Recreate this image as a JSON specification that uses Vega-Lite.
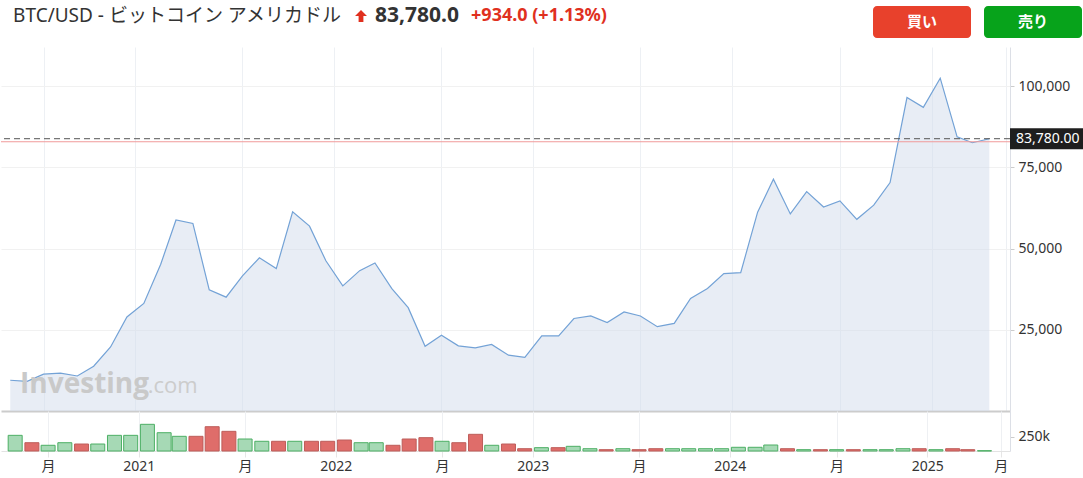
{
  "$schema": "https://vega.github.io/schema/vega-lite/v6.json",
  "padding": {"left": 0, "top": 5, "right": 0, "bottom": 0},
  "background": "white",
  "config": {"view": {"stroke": null}, "font": "Noto Sans, Noto Sans CJK JP"},
  "datasets": {
    "btc": [
      {"date": "2020-05-01", "close": 9454.8, "volume": 274000, "dir": "up"},
      {"date": "2020-06-01", "close": 9135.4, "volume": 145000, "dir": "down"},
      {"date": "2020-07-01", "close": 11333.4, "volume": 100000, "dir": "up"},
      {"date": "2020-08-01", "close": 11644.2, "volume": 145000, "dir": "up"},
      {"date": "2020-09-01", "close": 10776.1, "volume": 122000, "dir": "down"},
      {"date": "2020-10-01", "close": 13797.3, "volume": 122000, "dir": "up"},
      {"date": "2020-11-01", "close": 19698.1, "volume": 274000, "dir": "up"},
      {"date": "2020-12-01", "close": 28949.4, "volume": 274000, "dir": "up"},
      {"date": "2021-01-01", "close": 33108.1, "volume": 467000, "dir": "up"},
      {"date": "2021-02-01", "close": 45164.0, "volume": 320000, "dir": "up"},
      {"date": "2021-03-01", "close": 58763.7, "volume": 257000, "dir": "up"},
      {"date": "2021-04-01", "close": 57720.3, "volume": 257000, "dir": "down"},
      {"date": "2021-05-01", "close": 37298.6, "volume": 425000, "dir": "down"},
      {"date": "2021-06-01", "close": 35026.9, "volume": 344000, "dir": "down"},
      {"date": "2021-07-01", "close": 41553.7, "volume": 210000, "dir": "up"},
      {"date": "2021-08-01", "close": 47130.4, "volume": 170000, "dir": "up"},
      {"date": "2021-09-01", "close": 43823.3, "volume": 170000, "dir": "down"},
      {"date": "2021-10-01", "close": 61309.6, "volume": 170000, "dir": "up"},
      {"date": "2021-11-01", "close": 56882.9, "volume": 170000, "dir": "down"},
      {"date": "2021-12-01", "close": 46219.5, "volume": 170000, "dir": "down"},
      {"date": "2022-01-01", "close": 38498.6, "volume": 192000, "dir": "down"},
      {"date": "2022-02-01", "close": 43188.2, "volume": 145000, "dir": "up"},
      {"date": "2022-03-01", "close": 45525.0, "volume": 145000, "dir": "up"},
      {"date": "2022-04-01", "close": 37650.0, "volume": 100000, "dir": "down"},
      {"date": "2022-05-01", "close": 31793.4, "volume": 210000, "dir": "down"},
      {"date": "2022-06-01", "close": 19926.6, "volume": 233000, "dir": "down"},
      {"date": "2022-07-01", "close": 23303.4, "volume": 170000, "dir": "up"},
      {"date": "2022-08-01", "close": 20050.0, "volume": 145000, "dir": "down"},
      {"date": "2022-09-01", "close": 19422.9, "volume": 292000, "dir": "down"},
      {"date": "2022-10-01", "close": 20490.9, "volume": 100000, "dir": "up"},
      {"date": "2022-11-01", "close": 17163.9, "volume": 122000, "dir": "down"},
      {"date": "2022-12-01", "close": 16537.4, "volume": 40000, "dir": "down"},
      {"date": "2023-01-01", "close": 23125.1, "volume": 58000, "dir": "up"},
      {"date": "2023-02-01", "close": 23120.0, "volume": 58000, "dir": "down"},
      {"date": "2023-03-01", "close": 28465.4, "volume": 82000, "dir": "up"},
      {"date": "2023-04-01", "close": 29252.1, "volume": 40000, "dir": "up"},
      {"date": "2023-05-01", "close": 27216.1, "volume": 23000, "dir": "down"},
      {"date": "2023-06-01", "close": 30472.9, "volume": 40000, "dir": "up"},
      {"date": "2023-07-01", "close": 29232.4, "volume": 23000, "dir": "down"},
      {"date": "2023-08-01", "close": 25940.8, "volume": 40000, "dir": "down"},
      {"date": "2023-09-01", "close": 26962.7, "volume": 40000, "dir": "up"},
      {"date": "2023-10-01", "close": 34639.4, "volume": 40000, "dir": "up"},
      {"date": "2023-11-01", "close": 37718.1, "volume": 40000, "dir": "up"},
      {"date": "2023-12-01", "close": 42272.5, "volume": 40000, "dir": "up"},
      {"date": "2024-01-01", "close": 42580.5, "volume": 65000, "dir": "up"},
      {"date": "2024-02-01", "close": 61168.3, "volume": 65000, "dir": "up"},
      {"date": "2024-03-01", "close": 71332.0, "volume": 105000, "dir": "up"},
      {"date": "2024-04-01", "close": 60636.9, "volume": 40000, "dir": "down"},
      {"date": "2024-05-01", "close": 67530.1, "volume": 23000, "dir": "up"},
      {"date": "2024-06-01", "close": 62754.3, "volume": 23000, "dir": "down"},
      {"date": "2024-07-01", "close": 64628.0, "volume": 23000, "dir": "up"},
      {"date": "2024-08-01", "close": 58974.0, "volume": 23000, "dir": "down"},
      {"date": "2024-09-01", "close": 63327.6, "volume": 23000, "dir": "up"},
      {"date": "2024-10-01", "close": 70292.0, "volume": 23000, "dir": "up"},
      {"date": "2024-11-01", "close": 96449.1, "volume": 40000, "dir": "up"},
      {"date": "2024-12-01", "close": 93429.2, "volume": 40000, "dir": "down"},
      {"date": "2025-01-01", "close": 102405.0, "volume": 23000, "dir": "up"},
      {"date": "2025-02-01", "close": 84349.9, "volume": 40000, "dir": "down"},
      {"date": "2025-03-01", "close": 82548.9, "volume": 23000, "dir": "down"},
      {"date": "2025-04-01", "close": 83780.0, "volume": 5000, "dir": "up"}
    ]
  },
  "spacing": 9,
  "vconcat": [
    {
      "spacing": 0,
      "hconcat": [
        {
          "width": 352, "height": 32,
          "data": {"values": [{"t": "BTC/USD - ビットコイン アメリカドル"}]},
          "mark": {"type": "text", "fontSize": 19, "color": "#333333", "baseline": "middle", "dy": -6},
          "encoding": {"text": {"field": "t"}}
        },
        {
          "width": 16, "height": 32,
          "data": {"values": [{"t": "up"}]},
          "mark": {"type": "point", "shape": "M0,-2L1,-1L0.4,-1L0.4,0L-0.4,0L-0.4,-1L-1,-1Z", "size": 144, "filled": true, "color": "#e0301e", "opacity": 1, "strokeWidth": 0},
          "encoding": {}
        },
        {
          "width": 96, "height": 32,
          "data": {"values": [{"t": "83,780.0"}]},
          "mark": {"type": "text", "fontSize": 21, "fontWeight": "bold", "color": "#333333", "baseline": "middle", "dy": -6},
          "encoding": {"text": {"field": "t"}}
        },
        {
          "width": 148, "height": 32,
          "data": {"values": [{"t": "+934.0  (+1.13%)"}]},
          "mark": {"type": "text", "fontSize": 18, "fontWeight": "bold", "color": "#e0301e", "baseline": "middle", "dy": -6},
          "encoding": {"text": {"field": "t"}}
        },
        {
          "width": 260, "height": 32,
          "data": {"values": [{"t": ""}]},
          "mark": {"type": "text"},
          "encoding": {"text": {"field": "t"}}
        },
        {
          "width": 98, "height": 32,
          "view": {"fill": "#e8412c", "cornerRadius": 4, "stroke": null},
          "data": {"values": [{"t": "買い"}]},
          "mark": {"type": "text", "fontSize": 15, "fontWeight": "bold", "color": "white", "baseline": "middle", "font": "Noto Sans CJK JP"},
          "encoding": {"text": {"field": "t"}}
        },
        {
          "width": 13, "height": 32,
          "data": {"values": [{"t": ""}]},
          "mark": {"type": "text"},
          "encoding": {"text": {"field": "t"}}
        },
        {
          "width": 98, "height": 32,
          "view": {"fill": "#07a31b", "cornerRadius": 4, "stroke": null},
          "data": {"values": [{"t": "売り"}]},
          "mark": {"type": "text", "fontSize": 15, "fontWeight": "bold", "color": "white", "baseline": "middle", "font": "Noto Sans CJK JP"},
          "encoding": {"text": {"field": "t"}}
        }
      ]
    },
    {
      "spacing": 0,
      "vconcat": [
        {
          "width": 1009, "height": 364,
          "layer": [
            {
              "data": {"name": "btc"},
              "mark": {"type": "area", "fill": "#d1dbeb", "fillOpacity": 0.5, "line": {"color": "#73a2d6", "strokeWidth": 1.2}},
              "encoding": {
                "x": {
                  "field": "date", "type": "temporal",
                  "scale": {"type": "utc", "domain": [{"year": 2020, "month": 4, "date": 14, "utc": true}, {"year": 2025, "month": 5, "date": 9, "utc": true}]},
                  "axis": {
                    "values": [
                      {"year": 2020, "month": 7, "date": 1, "utc": true},
                      {"year": 2020, "month": 12, "date": 16, "utc": true},
                      {"year": 2021, "month": 7, "date": 1, "utc": true},
                      {"year": 2021, "month": 12, "date": 16, "utc": true},
                      {"year": 2022, "month": 7, "date": 1, "utc": true},
                      {"year": 2022, "month": 12, "date": 16, "utc": true},
                      {"year": 2023, "month": 7, "date": 1, "utc": true},
                      {"year": 2023, "month": 12, "date": 16, "utc": true},
                      {"year": 2024, "month": 7, "date": 1, "utc": true},
                      {"year": 2024, "month": 12, "date": 16, "utc": true},
                      {"year": 2025, "month": 5, "date": 1, "utc": true}
                    ],
                    "grid": true, "gridColor": "#edf0f4", "labels": false, "ticks": false,
                    "domain": true, "domainColor": "#cccccc", "domainWidth": 2, "title": null
                  }
                },
                "y": {
                  "field": "close", "type": "quantitative",
                  "scale": {"domain": [0, 112000], "nice": false},
                  "axis": {
                    "orient": "right", "values": [25000, 50000, 75000, 100000], "format": ",.0f",
                    "grid": true, "gridColor": "#f1f1f1", "domainColor": "#dcdfe6", "tickColor": "#cccccc",
                    "tickSize": 4, "labelPadding": 4, "labelFontSize": 14, "labelColor": "#333333", "title": null
                  }
                }
              }
            },
            {
              "data": {"values": [{"t": "watermark"}]},
              "mark": {"type": "text", "text": "Investing", "font": "Open Sans", "fontWeight": "bold", "fontSize": 28, "color": "#c9c9c9", "align": "left", "baseline": "alphabetic"},
              "encoding": {"x": {"datum": {"year": 2020, "month": 5, "date": 19, "utc": true}}, "y": {"datum": 5490}}
            },
            {
              "data": {"values": [{"t": "watermark"}]},
              "mark": {"type": "text", "text": ".com", "font": "Open Sans", "fontSize": 22, "color": "#cccccc", "align": "left", "baseline": "alphabetic"},
              "encoding": {"x": {"datum": {"year": 2021, "month": 1, "date": 8, "utc": true}}, "y": {"datum": 5490}}
            },
            {
              "data": {"values": [{"t": "prev"}]},
              "mark": {"type": "rule", "color": "#f09a9a", "strokeWidth": 1},
              "encoding": {"y": {"datum": 82846}}
            },
            {
              "data": {"values": [{"t": "last"}]},
              "mark": {"type": "rule", "color": "#555555", "strokeWidth": 1, "strokeDash": [6, 4]},
              "encoding": {"y": {"datum": 83780}}
            },
            {
              "data": {"values": [{"t": "box"}]},
              "mark": {"type": "rect", "color": "#1e1e1e"},
              "encoding": {
                "x": {"datum": {"year": 2025, "month": 5, "date": 9, "utc": true}},
                "x2": {"datum": {"year": 2025, "month": 9, "date": 21, "utc": true}},
                "y": {"datum": 87020},
                "y2": {"datum": 80540}
              }
            },
            {
              "data": {"values": [{"t": "83,780.00"}]},
              "mark": {"type": "text", "color": "white", "fontSize": 14, "align": "left", "baseline": "middle"},
              "encoding": {
                "x": {"datum": {"year": 2025, "month": 5, "date": 20, "utc": true}},
                "y": {"datum": 83780},
                "text": {"field": "t"}
              }
            }
          ]
        },
        {
          "width": 1009, "height": 40,
          "data": {"name": "btc"},
          "mark": {"type": "bar", "width": 14, "strokeWidth": 1},
          "encoding": {
            "x": {
              "field": "date", "type": "temporal",
              "scale": {"type": "utc", "domain": [{"year": 2020, "month": 4, "date": 14, "utc": true}, {"year": 2025, "month": 5, "date": 9, "utc": true}]},
              "axis": {
                "values": [
                  {"year": 2020, "month": 7, "date": 1, "utc": true},
                  {"year": 2020, "month": 12, "date": 16, "utc": true},
                  {"year": 2021, "month": 7, "date": 1, "utc": true},
                  {"year": 2021, "month": 12, "date": 16, "utc": true},
                  {"year": 2022, "month": 7, "date": 1, "utc": true},
                  {"year": 2022, "month": 12, "date": 16, "utc": true},
                  {"year": 2023, "month": 7, "date": 1, "utc": true},
                  {"year": 2023, "month": 12, "date": 16, "utc": true},
                  {"year": 2024, "month": 7, "date": 1, "utc": true},
                  {"year": 2024, "month": 12, "date": 16, "utc": true},
                  {"year": 2025, "month": 5, "date": 1, "utc": true}
                ],
                "labelExpr": "utcmonth(datum.value) == 11 ? '' + (utcyear(datum.value) + 1) : '月'",
                "grid": true, "gridColor": "#eef0f3", "tickColor": "#e6e6e6", "tickSize": 6,
                "domainColor": "#e3e3e3", "labelFontSize": 14, "labelColor": "#333333", "labelPadding": 2,
                "labelFlush": false, "labelOverlap": false, "title": null
              }
            },
            "y": {
              "field": "volume", "type": "quantitative",
              "scale": {"domain": [0, 700000], "nice": false},
              "axis": {
                "orient": "right", "values": [250000], "labelExpr": "'250k'", "grid": false,
                "domainColor": "#dcdfe6", "tickColor": "#cccccc", "tickSize": 4, "labelPadding": 4,
                "labelFontSize": 14, "labelColor": "#333333", "title": null
              }
            },
            "fill": {"field": "dir", "type": "nominal", "scale": {"domain": ["up", "down"], "range": ["#a6d9b5", "#df6d6a"]}, "legend": null},
            "stroke": {"field": "dir", "type": "nominal", "scale": {"domain": ["up", "down"], "range": ["#4caf64", "#bd5c59"]}, "legend": null}
          }
        }
      ]
    }
  ]
}
